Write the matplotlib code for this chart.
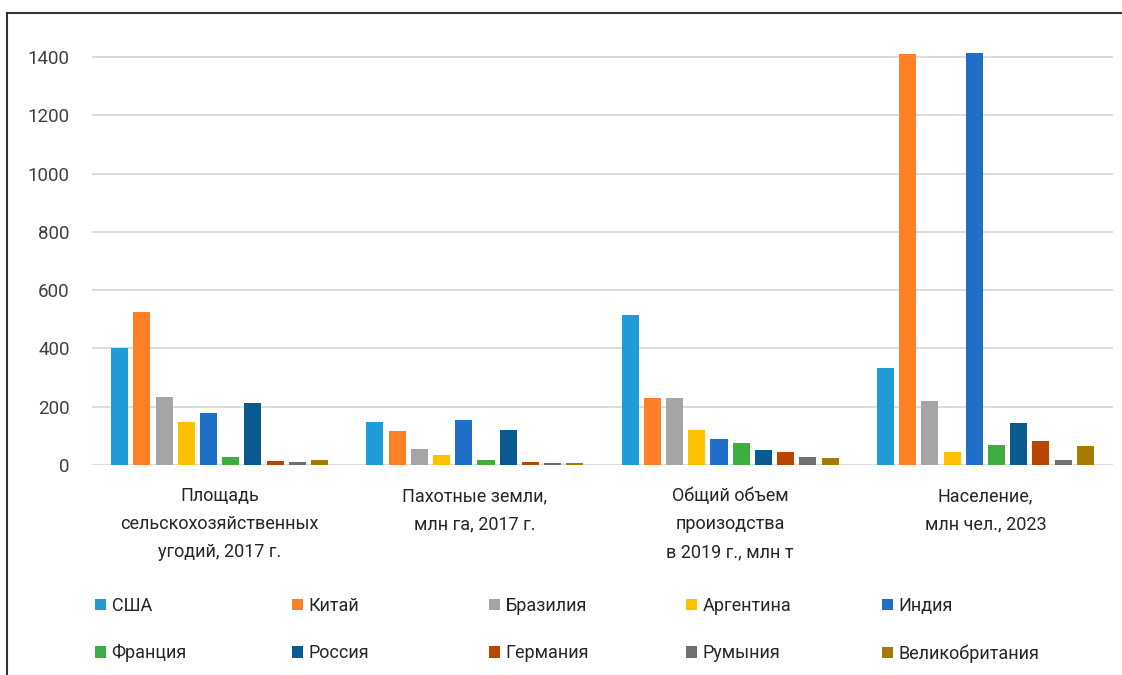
import matplotlib
matplotlib.use("Agg")
import matplotlib.pyplot as plt
from matplotlib.patches import Patch
from matplotlib.lines import Line2D
import numpy as np

plt.rcParams['font.family'] = ['Roboto', 'DejaVu Sans']

categories = [
    "Площадь\nсельскохозяйственных\nугодий, 2017 г.",
    "Пахотные земли,\nмлн га, 2017 г.",
    "Общий объем\nпроизодства\nв 2019 г., млн т",
    "Население,\nмлн чел., 2023",
]
countries = ["США", "Китай", "Бразилия", "Аргентина", "Индия",
             "Франция", "Россия", "Германия", "Румыния", "Великобритания"]
colors = ["#1F9BD7", "#FF7F27", "#A5A5A5", "#FFC000", "#1F6FC9",
          "#3DAE3F", "#0A5A92", "#B84500", "#707070", "#A67A00"]

values = {
    "США":            [402, 148, 513, 332],
    "Китай":          [526, 118, 229, 1410],
    "Бразилия":       [234, 54, 229, 220],
    "Аргентина":      [147, 36, 120, 44],
    "Индия":          [177, 153, 88, 1413],
    "Франция":        [28, 16, 74, 68],
    "Россия":         [214, 120, 50, 145],
    "Германия":       [15, 9, 45, 82],
    "Румыния":        [10, 8, 28, 17],
    "Великобритания": [16, 6, 24, 66],
}

yticks = [0, 200, 400, 600, 800, 1000, 1200, 1400]

W, H = 1122, 675
fig = plt.figure(figsize=(W / 100, H / 100), dpi=100)
ax = fig.add_axes([92 / W, 1 - 465 / H, (1113 - 92) / W, (465 - 42.4) / H])

x = np.arange(len(categories))
step = 0.087
width = 0.067
n = len(countries)
handles = []
for i, (c, col) in enumerate(zip(countries, colors)):
    off = (i - (n - 1) / 2) * step
    ax.bar(x + off, values[c], width=width, color=col, label=c, zorder=3)
    handles.append(Patch(facecolor=col, edgecolor='none', label=c))

ax.set_xlim(-0.5, len(categories) - 0.5)
ax.set_ylim(0, 1450)
ax.set_yticks(yticks)
ax.set_yticklabels([str(v) for v in yticks])
ax.set_xticks(x)
ax.set_xticklabels(categories, fontsize=13, color="#262626", linespacing=1.72)
ax.tick_params(axis='x', length=0, pad=16)
ax.tick_params(axis='y', length=0, pad=16, labelsize=13.5, labelcolor="#404040")
ax.grid(axis='y', color="#D9D9D9", linewidth=1.3, zorder=0)
for s in ax.spines.values():
    s.set_visible(False)

# legend: five columns, two rows each
col_x = [95, 292, 489, 686, 882]
for j in range(5):
    hs = [handles[j], handles[j + 5]]
    fig.legend(handles=hs, loc='upper left',
               bbox_to_anchor=(col_x[j] / W, 1 - 597 / H),
               frameon=False, fontsize=13, handlelength=0.62,
               handleheight=0.62, handletextpad=0.3, labelspacing=1.62,
               borderpad=0, borderaxespad=0, labelcolor="#262626")

# outer frame (top and left edges)
fig.add_artist(Line2D([7 / W, 7 / W], [0, 1 - 13 / H], transform=fig.transFigure,
                      color="#333333", linewidth=1.5))
fig.add_artist(Line2D([7 / W, 1], [1 - 13 / H, 1 - 13 / H], transform=fig.transFigure,
                      color="#333333", linewidth=1.5))

fig.savefig("out.png", dpi=100)
